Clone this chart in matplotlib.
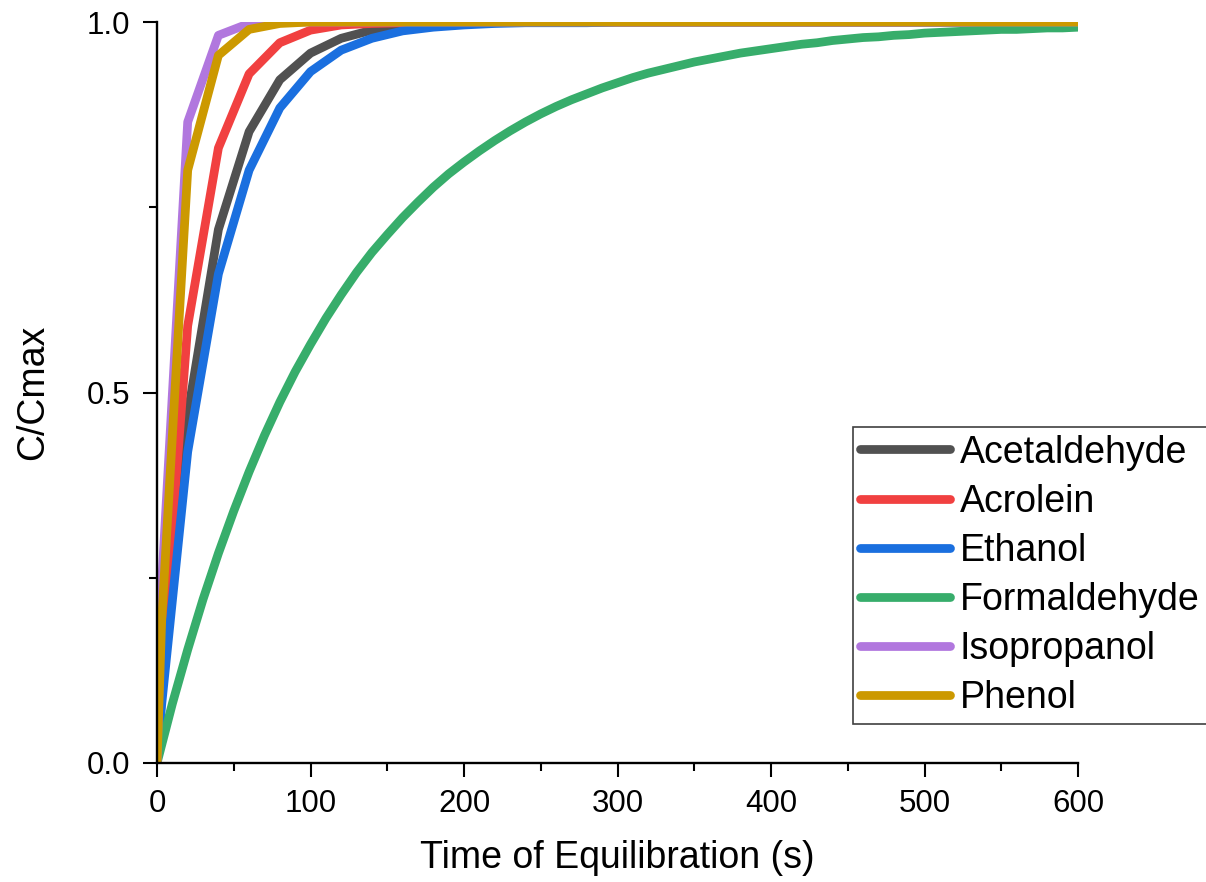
import matplotlib
matplotlib.use("Agg")
import matplotlib.pyplot as plt
from matplotlib.ticker import MultipleLocator, FormatStrFormatter

plt.rcParams["font.family"] = ["Liberation Sans", "DejaVu Sans"]

# time grid (s)
time_s = [0, 3, 20, 40, 60, 80, 100, 120, 140, 160, 180, 200, 220, 240, 260, 280,
          300, 320, 340, 360, 380, 400, 420, 440, 460, 480, 500, 520, 540, 560, 580, 600]

acetaldehyde = [0, 0.09, 0.47, 0.72, 0.852, 0.922, 0.958, 0.978, 0.989, 0.994, 0.997, 0.998,
                0.999, 1.0, 1.0, 1.0, 1.0, 1.0, 1.0, 1.0, 1.0, 1.0, 1.0, 1.0, 1.0, 1.0,
                1.0, 1.0, 1.0, 1.0, 1.0, 1.0]
acrolein = [0, 0.125, 0.59, 0.83, 0.93, 0.972, 0.989, 0.996, 0.998, 0.999, 1.0, 1.0,
            1.0, 1.0, 1.0, 1.0, 1.0, 1.0, 1.0, 1.0, 1.0, 1.0, 1.0, 1.0, 1.0, 1.0,
            1.0, 1.0, 1.0, 1.0, 1.0, 1.0]
ethanol = [0, 0.078, 0.42, 0.66, 0.80, 0.884, 0.933, 0.962, 0.978, 0.988, 0.993, 0.996,
           0.998, 0.999, 0.999, 0.999, 1.0, 1.0, 1.0, 1.0, 1.0, 1.0, 1.0, 1.0, 1.0, 1.0,
           1.0, 1.0, 1.0, 1.0, 1.0, 1.0]
isopropanol = [0, 0.24, 0.865, 0.982, 0.998, 1.0, 1.0, 1.0, 1.0, 1.0, 1.0, 1.0,
               1.0, 1.0, 1.0, 1.0, 1.0, 1.0, 1.0, 1.0, 1.0, 1.0, 1.0, 1.0, 1.0, 1.0,
               1.0, 1.0, 1.0, 1.0, 1.0, 1.0]
phenol = [0, 0.19, 0.80, 0.955, 0.99, 0.998, 1.0, 1.0, 1.0, 1.0, 1.0, 1.0,
          1.0, 1.0, 1.0, 1.0, 1.0, 1.0, 1.0, 1.0, 1.0, 1.0, 1.0, 1.0, 1.0, 1.0,
          1.0, 1.0, 1.0, 1.0, 1.0, 1.0]

# formaldehyde is a smooth curve, read every 10 s
time_form = [0, 10, 20, 30, 40, 50, 60, 70, 80, 90, 100, 110, 120, 130, 140, 150,
             160, 170, 180, 190, 200, 210, 220, 230, 240, 250, 260, 270, 280, 290, 300,
             310, 320, 330, 340, 350, 360, 370, 380, 390, 400, 410, 420, 430, 440, 450,
             460, 470, 480, 490, 500, 510, 520, 530, 540, 550, 560, 570, 580, 590, 600]
formaldehyde = [0, 0.08, 0.153, 0.221, 0.283, 0.34, 0.393, 0.442, 0.487, 0.528, 0.565,
                0.60, 0.632, 0.662, 0.689, 0.713, 0.736, 0.757, 0.777, 0.795, 0.811,
                0.826, 0.840, 0.853, 0.865, 0.876, 0.886, 0.895, 0.903, 0.911, 0.918,
                0.925, 0.931, 0.936, 0.941, 0.946, 0.950, 0.954, 0.958, 0.961, 0.964,
                0.967, 0.970, 0.972, 0.975, 0.977, 0.979, 0.980, 0.982, 0.983, 0.985,
                0.986, 0.987, 0.988, 0.989, 0.990, 0.990, 0.991, 0.992, 0.992, 0.993]

names = ["Acetaldehyde", "Acrolein", "Ethanol", "Formaldehyde", "Isopropanol", "Phenol"]
xs = [time_s, time_s, time_s, time_form, time_s, time_s]
series = [acetaldehyde, acrolein, ethanol, formaldehyde, isopropanol, phenol]
colors = ["#515151", "#F14040", "#1A6FDF", "#37AD6B", "#B177DE", "#CC9900"]

fig = plt.figure(figsize=(12.06, 8.82), dpi=100)
ax = fig.add_axes([157 / 1206, 1 - 763 / 882, (1078 - 157) / 1206, (763 - 22) / 882])

for name, x, vals, c in zip(names, xs, series, colors):
    ax.plot(x, vals, color=c, lw=6.3, label=name,
            solid_joinstyle="round", solid_capstyle="round")

ax.set_xlim(0, 600)
ax.set_ylim(0, 1)
ax.spines[["top", "right"]].set_visible(False)
for s in ["left", "bottom"]:
    ax.spines[s].set_linewidth(1.7)

ax.xaxis.set_major_locator(MultipleLocator(100))
ax.xaxis.set_minor_locator(MultipleLocator(50))
ax.yaxis.set_major_locator(MultipleLocator(0.5))
ax.yaxis.set_minor_locator(MultipleLocator(0.25))
ax.yaxis.set_major_formatter(FormatStrFormatter("%.1f"))
ax.tick_params(which="major", direction="out", length=10, width=1.5, labelsize=22.5, pad=9)
ax.tick_params(which="minor", direction="out", length=6, width=1.5)

ax.set_xlabel("Time of Equilibration (s)", fontsize=27, labelpad=15)
ax.set_ylabel("C/Cmax", fontsize=27, labelpad=26)

leg = ax.legend(loc="upper left", bbox_to_anchor=(853 / 1206, 1 - 427 / 882),
                bbox_transform=fig.transFigure, fontsize=27, fancybox=False,
                edgecolor="#404040", framealpha=1, borderpad=0.2, handlelength=2.4,
                handletextpad=0.25, labelspacing=0.35, borderaxespad=0)
leg.get_frame().set_linewidth(1.2)

fig.savefig("out.png", dpi=100)
